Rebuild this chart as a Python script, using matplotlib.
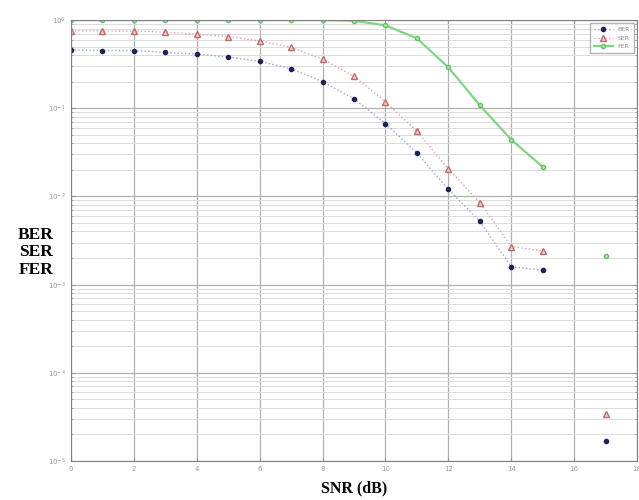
import numpy as np
import matplotlib.pyplot as plt
from matplotlib.ticker import LogLocator, NullFormatter

# values
snr = [0, 1, 2, 3, 4, 5, 6, 7, 8, 9, 10, 11, 12, 13, 14, 15, 17]
ber = [0.46, 0.45, 0.45, 0.43, 0.41, 0.38, 0.34, 0.28, 0.20, 0.128, 0.067,
       0.031, 0.012, 0.0052, 0.0016, 0.00145, 1.7e-5]
ser = [0.76, 0.75, 0.75, 0.73, 0.69, 0.65, 0.58, 0.49, 0.36, 0.23, 0.118,
       0.055, 0.0205, 0.0085, 0.0027, 0.0024, 3.4e-5]
fer = [1.0, 1.0, 1.0, 1.0, 1.0, 1.0, 1.0, 1.0, 1.0, 0.98, 0.87,
       0.62, 0.29, 0.108, 0.044, 0.0216, 0.0021]

fig = plt.figure(figsize=(6.39, 5), dpi=100)
ax = fig.add_axes([0.111, 0.078, 0.886, 0.882])

# the last point (17 dB) sits apart from the curves
ax.plot(snr[:-1], ber[:-1], ':', color='#8fa8e0', lw=1, marker='o', ms=3,
        mfc='#22225a', mec='#22225a', label='BER')
ax.plot(snr[:-1], ser[:-1], ':', color='#e8a0a0', lw=1, marker='^', ms=4,
        mfc='#f0d0c8', mec='#c06a6a', label='SER')
ax.plot(snr[:-1], fer[:-1], '-', color='#7fd67f', lw=1.6, marker='o', ms=3,
        mfc='#a8e8a8', mec='#66c066', label='FER')
ax.plot(snr[-1], ber[-1], 'o', ms=3, color='#22225a')
ax.plot(snr[-1], ser[-1], '^', ms=4, mfc='#f0d0c8', mec='#c06a6a')
ax.plot(snr[-1], fer[-1], 'o', ms=3, mfc='#a8e8a8', mec='#66c066')

ax.set_yscale('log')
ax.set_ylim(1e-5, 1)
ax.set_xlim(0, 18)
ax.set_xticks(range(0, 19, 2))
ax.yaxis.set_major_locator(LogLocator(base=10, numticks=10))
ax.yaxis.set_minor_locator(LogLocator(base=10, subs=np.arange(2, 10), numticks=20))
ax.yaxis.set_minor_formatter(NullFormatter())

ax.grid(True, which='major', color='#b0b0b0', lw=0.9)
ax.grid(True, which='minor', axis='y', color='#dcdcdc', lw=0.7)
ax.tick_params(which='both', direction='in', labelsize=5, colors='#999999',
               length=3, right=True, top=True)
ax.tick_params(which='minor', length=1.5)
for s in ax.spines.values():
    s.set_color('#808080')

ax.set_xlabel('SNR (dB)', fontsize=11.5, fontweight='bold', family='Liberation Serif', labelpad=6)
ax.set_ylabel('BER\nSER\nFER', fontsize=12.5, fontweight='bold', family='Liberation Serif',
              rotation=0, ha='center', va='center', labelpad=0, linespacing=1.1)
ax.yaxis.set_label_coords(-0.062, 0.473)

leg = ax.legend(loc='upper right', fontsize=4.5, frameon=True, fancybox=False,
                edgecolor='#a0a0a0', borderpad=0.6, handlelength=3)
for t in leg.get_texts():
    t.set_color('#909090')

fig.savefig('out.png', dpi=100)
